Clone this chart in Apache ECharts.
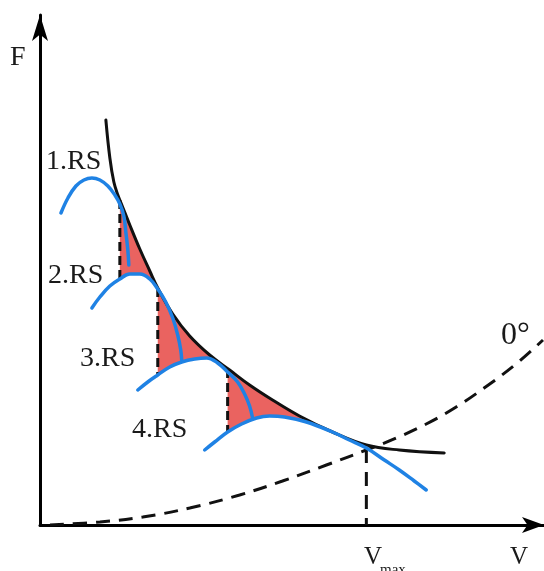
<!DOCTYPE html>
<html>
<head>
<meta charset="utf-8">
<script src="https://cdn.jsdelivr.net/npm/echarts@6/dist/echarts.min.js"></script>
<style>
  html, body { margin: 0; padding: 0; background: #fff; }
  #chart { width: 544px; height: 571px; }
</style>
</head>
<body>
<div id="chart"></div>
<script>
// traction hyperbola (ideal force curve)
const hyperbola = [[66, 405], [70, 367], [74, 343], [78, 330], [82, 320], [90, 300], [100, 276], [110, 254],
  [118, 237], [133, 211], [150, 189], [170, 170], [190, 155], [210, 140], [233, 125], [260, 109],
  [293, 93], [327, 80], [360, 75], [405, 72]]

// gear curves 1.RS .. 4.RS
const rs1 = [[21, 312], [28, 327], [36, 339], [44, 345], [52, 347], [60, 345], [68, 339], [75, 330],
  [80, 321], [84, 309], [86, 293], [88, 275], [89, 260]]
const rs2 = [[52, 217], [60, 228], [70, 239], [80, 246], [90, 251], [100, 251], [110, 246], [118, 236],
  [126, 223], [133, 207], [138, 190], [141, 175], [142, 165]]
const rs3 = [[98, 135], [108, 143], [118, 150], [130, 158], [142, 163], [155, 166], [167, 167], [178, 162],
  [188, 153], [198, 143], [205, 131], [210, 119], [213, 107]]
const rs4 = [[165, 75], [175, 83], [188, 93], [202, 101], [217, 107], [230, 109], [245, 108], [267, 103],
  [293, 93], [310, 85], [327, 77], [345, 65], [360, 55], [375, 44], [387, 35]]

// driving resistance at 0°
const resistance = [[10, 0], [60, 3], [103, 8], [150, 17], [200, 30], [243, 44], [287, 60], [327, 75],
  [357, 87], [387, 101], [417, 118], [445, 137], [477, 161], [504, 185]]

// shift points (dashed verticals)
const shift1 = [[80, 325], [80, 246]]
const shift2 = [[118, 237], [118, 150]]
const shift3 = [[188, 156], [188, 93]]
const vmaxLine = [[327, 76], [327, 0]]

// traction gaps (red areas)
const gap1 = [[80, 325], [82, 320], [86, 310], [90, 300], [95, 288], [100, 276], [105, 265], [110, 254],
  [116, 239], [110, 246], [100, 251], [90, 251], [80, 246]]
const gap2 = [[118, 237], [125, 224], [133, 211], [142, 199], [150, 189], [160, 179], [170, 170], [180, 162],
  [188, 155], [178, 162], [167, 167], [155, 166], [142, 163], [130, 158], [118, 150]]
const gap3 = [[188, 156], [200, 147], [210, 140], [222, 132], [233, 125], [246, 117], [258, 110], [266, 105],
  [255, 106], [245, 108], [230, 109], [217, 107], [202, 101], [188, 93]]

const black = '#111'
const blue = '#1f82e4'
const red = '#ea6360'
const serif = '"Liberation Serif", "DejaVu Serif", serif'

const chart = echarts.init(document.getElementById('chart'))

function curve(data, color, width, dash, smooth) {
  return {
    type: 'line',
    data: data,
    smooth: smooth === undefined ? 0.4 : smooth,
    symbol: 'none',
    clip: false,
    silent: true,
    lineStyle: { color: color, width: width, type: dash || 'solid', cap: dash ? 'butt' : 'round' },
    z: 3
  }
}

function fill(data) {
  return {
    type: 'custom',
    data: data,
    clip: false,
    silent: true,
    z: 1,
    renderItem(params, api) {
      if (params.dataIndex !== 0) return null
      return {
        type: 'polygon',
        shape: { points: data.map(p => api.coord(p)) },
        style: { fill: red }
      }
    }
  }
}

function label(text, x, y, size) {
  return {
    type: 'text', x: x, y: y, silent: true,
    style: { text: text, font: size + 'px ' + serif, fill: '#1a1a1a', align: 'left', verticalAlign: 'middle' }
  }
}

const axisBase = {
  type: 'value',
  min: 0,
  axisTick: { show: false },
  axisLabel: { show: false },
  splitLine: { show: false }
}

chart.setOption({
  animation: false,
  backgroundColor: '#fff',
  grid: { left: 40, top: 15, width: 505, height: 510 },
  xAxis: Object.assign({}, axisBase, {
    max: 505,
    axisLine: { show: true, symbol: ['none', 'arrow'], symbolSize: [12, 22], symbolOffset: [0, 0], lineStyle: { color: '#000', width: 3 } }
  }),
  yAxis: Object.assign({}, axisBase, {
    max: 510,
    axisLine: { show: true, symbol: ['none', 'arrow'], symbolSize: [12, 26], symbolOffset: [0, 0], lineStyle: { color: '#000', width: 3 } }
  }),
  series: [
    fill(gap1),
    fill(gap2),
    fill(gap3),
    curve(resistance, black, 3, [14, 9]),
    curve(shift1, black, 3, [9, 5], false),
    curve(shift2, black, 3, [9, 5], false),
    curve(shift3, black, 3, [9, 5], false),
    curve(vmaxLine, black, 3, [14, 9], false),
    curve(hyperbola, black, 3),
    curve(rs1, blue, 3.5),
    curve(rs2, blue, 3.5),
    curve(rs3, blue, 3.5),
    curve(rs4, blue, 3.5)
  ],
  graphic: [
    label('F', 10, 58, 28),
    label('1.RS', 46, 162, 28),
    label('2.RS', 48, 276, 28),
    label('3.RS', 80, 359, 28),
    label('4.RS', 132, 430, 28),
    label('0°', 501, 336, 32),
    label('V', 510, 557, 25),
    label('V', 364, 557, 25),
    label('max', 380, 570, 15)
  ]
})
</script>
</body>
</html>
